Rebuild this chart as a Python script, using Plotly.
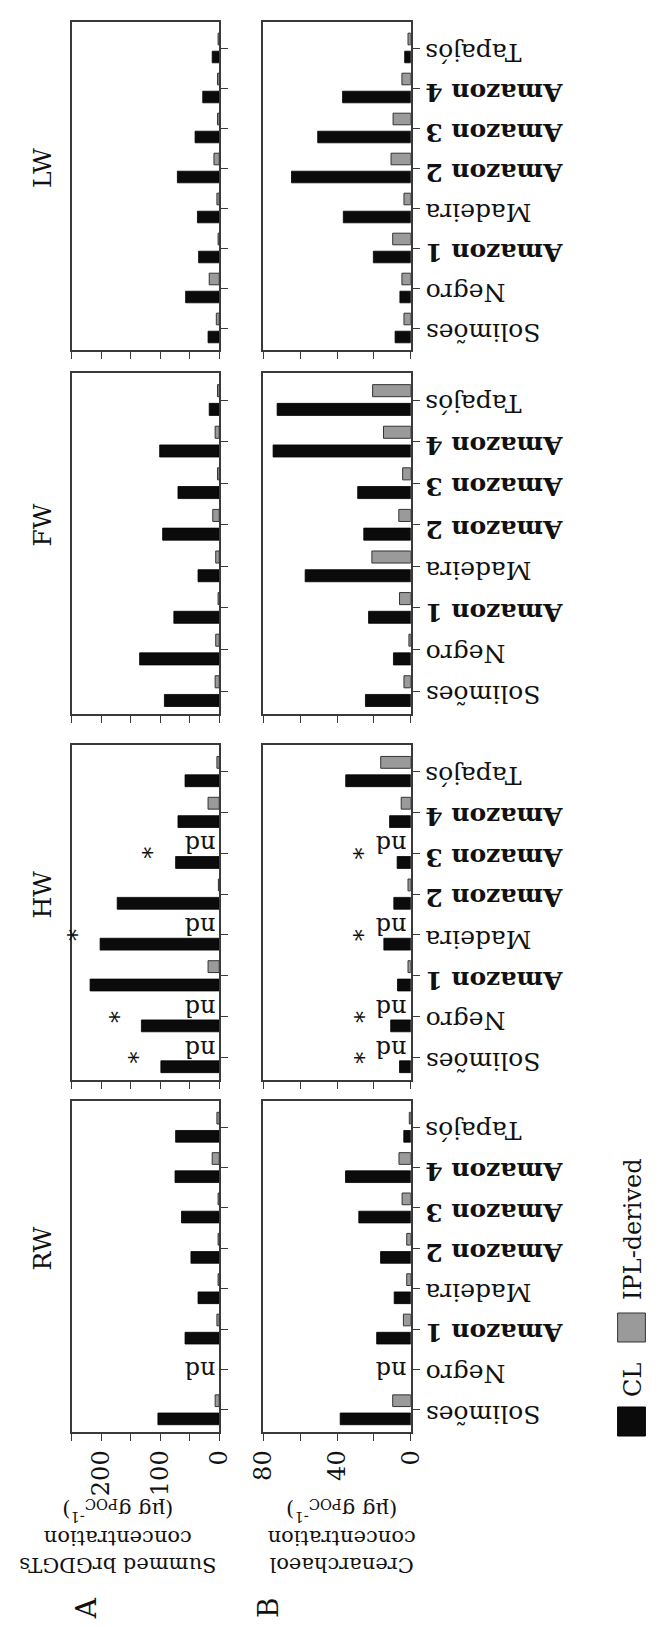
import plotly.graph_objects as go

# ---------------- data ----------------
categories = ["Solimões", "Negro", "Amazon 1", "Madeira", "Amazon 2", "Amazon 3", "Amazon 4", "Tapajós"]
bold_category = [False, False, True, False, True, True, True, False]
periods = ["RW", "HW", "FW", "LW"]

# A: summed brGDGTs (µg gPOC-1); None = nd
brgdgt_cl_rw = [104, None, 58, 36, 48, 64, 75, 74]
brgdgt_ipl_rw = [7, None, 4, 2, 2, 2, 12, 4]
brgdgt_cl_hw = [99, 132, 219, 202, 173, 74, 70, 58]
brgdgt_ipl_hw = [None, None, 19, None, 1.5, None, 19, 4]
brgdgt_cl_fw = [93, 135, 77, 36, 96, 70, 101, 17]
brgdgt_ipl_fw = [7, 6, 2, 6, 11, 3, 7, 3]
brgdgt_cl_lw = [19, 57, 35, 37, 71, 41, 28, 12]
brgdgt_ipl_lw = [5, 17, 2, 4, 9, 3, 3, 2]

# B: crenarchaeol (µg gPOC-1); None = nd
cren_cl_rw = [38.3, None, 18.5, 9.0, 16.4, 28.2, 35.4, 3.8]
cren_ipl_rw = [9.8, None, 4.0, 2.2, 2.2, 4.7, 6.4, 0.8]
cren_cl_hw = [6.1, 10.9, 7.2, 14.6, 9.2, 7.4, 11.5, 35.3]
cren_ipl_hw = [None, None, 1.5, None, 1.5, None, 5.2, 16.3]
cren_cl_fw = [24.6, 9.4, 22.9, 57.3, 25.5, 28.8, 74.7, 72.5]
cren_ipl_fw = [3.7, 1.0, 6.1, 21.1, 6.5, 4.4, 14.8, 20.7]
cren_cl_lw = [8.5, 5.9, 20.3, 36.6, 64.7, 50.5, 37.0, 3.3]
cren_ipl_lw = [3.7, 4.8, 9.8, 3.7, 10.7, 9.6, 4.8, 1.5]

# significance markers (*) in HW
hw_starred = ["Solimões", "Negro", "Madeira", "Amazon 3"]

brgdgt_major, brgdgt_minor = 100, 50
cren_major, cren_minor = 40, 20

panel_a = {"RW": (brgdgt_cl_rw, brgdgt_ipl_rw), "HW": (brgdgt_cl_hw, brgdgt_ipl_hw),
           "FW": (brgdgt_cl_fw, brgdgt_ipl_fw), "LW": (brgdgt_cl_lw, brgdgt_ipl_lw)}
panel_b = {"RW": (cren_cl_rw, cren_ipl_rw), "HW": (cren_cl_hw, cren_ipl_hw),
           "FW": (cren_cl_fw, cren_ipl_fw), "LW": (cren_cl_lw, cren_ipl_lw)}

# ---------------- layout geometry (pixels) ----------------
W, H = 660, 1627
FONT = "DejaVu Serif"
rows_px = {"RW": (1093, 1424), "HW": (737, 1072), "FW": (365, 706), "LW": (14, 342)}
cols_px = [(52, 206), (252, 406)]
AXC = "#3a3a3a"
CL_COLOR = "#0b0b0b"
IPL_COLOR = "#9a9a9a"
TXT = "#111111"

fig = go.Figure()
layout = dict(
    width=W, height=H, margin=dict(l=0, r=0, t=0, b=0),
    paper_bgcolor="white", plot_bgcolor="white",
    barmode="overlay", showlegend=False,
    font=dict(family=FONT, color=TXT, size=22),
)
annotations = []
shapes = []

for k, per in enumerate(periods):
    top, bot = rows_px[per]
    for j in range(2):
        n = 2 * k + j + 1
        xa = "x" if n == 1 else f"x{n}"
        ya = "y" if n == 1 else f"y{n}"
        cl, ipl = (panel_a if j == 0 else panel_b)[per]
        rmax = 250 if j == 0 else 80
        major = brgdgt_major if j == 0 else cren_major
        minor = brgdgt_minor if j == 0 else cren_minor
        idx = list(range(len(categories)))
        fig.add_trace(go.Bar(orientation="h", y=idx, x=cl,
                             width=0.29, offset=-0.37, xaxis=xa, yaxis=ya,
                             marker=dict(color=CL_COLOR, line=dict(color="#000000", width=0.8))))
        fig.add_trace(go.Bar(orientation="h", y=idx, x=ipl,
                             width=0.29, offset=0.08, xaxis=xa, yaxis=ya,
                             marker=dict(color=IPL_COLOR, line=dict(color="#333333", width=1))))
        x0, x1 = cols_px[j]
        layout["xaxis" + ("" if n == 1 else str(n))] = dict(
            domain=[x0 / W, x1 / W], anchor=ya, range=[rmax, 0],
            tick0=0, dtick=major, showticklabels=(per == "RW"), tickangle=-90,
            tickfont=dict(family=FONT, size=24, color=TXT),
            ticks="outside", ticklen=7, tickwidth=1.3, tickcolor=AXC,
            minor=dict(tick0=0, dtick=minor, ticks="outside", ticklen=7, tickwidth=1.3,
                       tickcolor=AXC, showgrid=False),
            showline=True, linecolor=AXC, linewidth=1.5, mirror=True,
            showgrid=False, zeroline=False, fixedrange=True,
        )
        layout["yaxis" + ("" if n == 1 else str(n))] = dict(
            domain=[1 - bot / H, 1 - top / H], anchor=xa, side="right",
            range=[-0.55, 7.65], tickvals=idx, showticklabels=False,
            ticks="outside", ticklen=7, tickwidth=1.3, tickcolor=AXC,
            showline=True, linecolor=AXC, linewidth=1.5, mirror=True,
            showgrid=False, zeroline=False, fixedrange=True,
        )
        px_per_unit = (x1 - x0) / rmax
        nd_extent = 36 / px_per_unit
        for i in idx:
            yv = None
            if cl[i] is None and ipl[i] is None:
                yv = i
            elif ipl[i] is None:
                yv = i + 0.225
            if yv is not None:
                annotations.append(dict(text="nd", x=0, y=yv, xref=xa, yref=ya,
                                        xanchor="right", yanchor="middle", xshift=-2,
                                        textangle=180, showarrow=False,
                                        font=dict(family=FONT, size=24, color=TXT)))
            if per == "HW" and categories[i] in hw_starred:
                ref = max(cl[i] or 0, nd_extent if ipl[i] is None else 0)
                annotations.append(dict(text="*", x=ref, y=i, xref=xa, yref=ya,
                                        xanchor="right", yanchor="middle",
                                        xshift=-7 if j == 0 else 3,
                                        textangle=-90, showarrow=False,
                                        font=dict(family=FONT, size=24, color=TXT)))
        if j == 1:
            for i, cat in enumerate(categories):
                annotations.append(dict(text=f"<b>{cat}</b>" if bold_category[i] else cat,
                                        x=419 / W, y=i, xref="paper", yref=ya,
                                        xanchor="left", yanchor="middle", yshift=-4,
                                        textangle=180, showarrow=False,
                                        font=dict(family=FONT, size=25, color=TXT)))
    # panel title
    annotations.append(dict(text=per, x=21 / W, y=1 - ((top + bot) / 2 - 18) / H,
                            xref="paper", yref="paper", xanchor="center", yanchor="middle",
                            textangle=-90, showarrow=False,
                            font=dict(family=FONT, size=25, color=TXT)))

# axis titles (upside-down, as in the reference)
annotations.append(dict(text="Summed brGDGTs<br>concentration<br>(µg g<sub>POC</sub><sup>-1</sup>)",
                        x=100 / W, y=1 - 1529 / H, xref="paper", yref="paper",
                        xanchor="center", yanchor="middle", textangle=180, showarrow=False,
                        align="center", font=dict(family=FONT, size=21, color=TXT)))
annotations.append(dict(text="Crenarchaeol<br>concentration<br>(µg g<sub>POC</sub><sup>-1</sup>)",
                        x=334 / W, y=1 - 1529 / H, xref="paper", yref="paper",
                        xanchor="center", yanchor="middle", textangle=180, showarrow=False,
                        align="center", font=dict(family=FONT, size=21, color=TXT)))
for lab, xc in (("A", 67), ("B", 257)):
    annotations.append(dict(text=lab, x=xc / W, y=1 - 1600 / H, xref="paper", yref="paper",
                            xanchor="center", yanchor="middle", textangle=-90, showarrow=False,
                            font=dict(family=FONT, size=28, color=TXT)))

# legend (rotated, drawn manually)
for color, lc, y0, label, ytxt in ((CL_COLOR, "#000000", 1399, "CL", 1372),
                                   (IPL_COLOR, "#333333", 1305, "IPL-derived", 1221)):
    shapes.append(dict(type="rect", xref="paper", yref="paper",
                       x0=622 / W, x1=651 / W, y0=1 - (y0 + 29) / H, y1=1 - y0 / H,
                       fillcolor=color, line=dict(color=lc, width=1)))
    annotations.append(dict(text=label, x=638 / W, y=1 - ytxt / H, xref="paper", yref="paper",
                            xanchor="center", yanchor="middle", textangle=-90, showarrow=False,
                            font=dict(family=FONT, size=24, color=TXT)))

layout["annotations"] = annotations
layout["shapes"] = shapes
fig.update_layout(**layout)
fig.write_html("out.html")
